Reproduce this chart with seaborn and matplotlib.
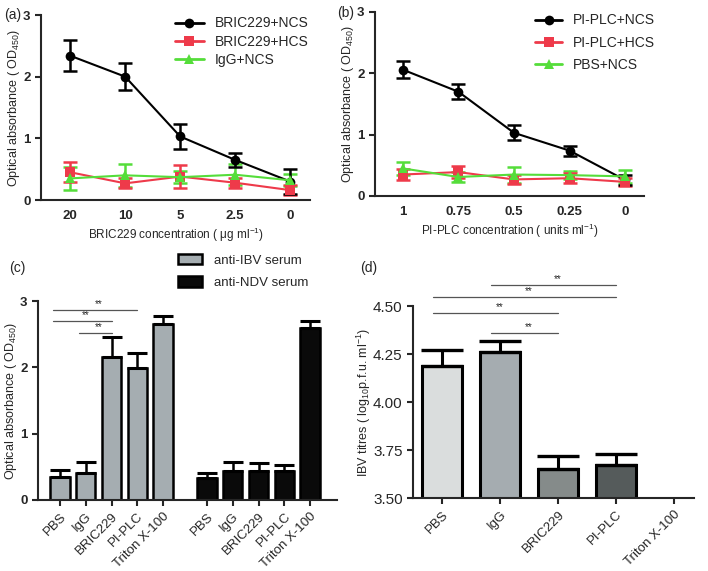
import numpy as np
import pandas as pd
import matplotlib
matplotlib.use('Agg')
import matplotlib.pyplot as plt
import seaborn as sns

# (a) BRIC229 titration
conc_a = ['20', '10', '5', '2.5', '0']
bric_ncs = [2.34, 2.00, 1.03, 0.65, 0.30]
bric_ncs_err = [0.25, 0.22, 0.20, 0.11, 0.21]
bric_hcs = [0.45, 0.27, 0.38, 0.28, 0.16]
bric_hcs_err = [0.16, 0.08, 0.18, 0.08, 0.08]
igg_ncs = [0.35, 0.40, 0.37, 0.41, 0.32]
igg_ncs_err = [0.18, 0.19, 0.10, 0.17, 0.10]

# (b) PI-PLC titration
conc_b = ['1', '0.75', '0.5', '0.25', '0']
plc_ncs = [2.06, 1.70, 1.03, 0.74, 0.26]
plc_ncs_err = [0.14, 0.12, 0.12, 0.08, 0.08]
plc_hcs = [0.35, 0.39, 0.27, 0.29, 0.23]
plc_hcs_err = [0.09, 0.10, 0.08, 0.08, 0.06]
pbs_ncs = [0.45, 0.31, 0.35, 0.34, 0.32]
pbs_ncs_err = [0.10, 0.08, 0.13, 0.07, 0.10]

# (c) treatments vs serum
treatments = ['PBS', 'IgG', 'BRIC229', 'PI-PLC', 'Triton X-100']
ibv_od = [0.34, 0.41, 2.16, 1.99, 2.66]
ibv_err = [0.11, 0.17, 0.30, 0.23, 0.11]
ndv_od = [0.33, 0.43, 0.44, 0.43, 2.59]
ndv_err = [0.08, 0.15, 0.12, 0.10, 0.11]
sig_c = [(0, 3, 2.87), (0, 2, 2.70), (1, 2, 2.52)]

# (d) IBV titres
titres = [4.19, 4.26, 3.65, 3.67, 0.0]
titres_err = [0.08, 0.06, 0.07, 0.057, 0.0]
sig_d = [(1, 3, 4.61), (0, 3, 4.547), (0, 2, 4.464), (1, 2, 4.36)]

sns.set_style('ticks')
plt.rcParams['font.family'] = ['Liberation Sans', 'DejaVu Sans']
plt.rcParams['mathtext.default'] = 'regular'
plt.rcParams['axes.linewidth'] = 1.5
plt.rcParams['xtick.major.width'] = 1.5
plt.rcParams['ytick.major.width'] = 1.5
plt.rcParams['xtick.major.size'] = 4
plt.rcParams['ytick.major.size'] = 4

fig = plt.figure(figsize=(7.08, 5.71), dpi=100)
W, H = 708, 571


def add_ax(l, r, t, b):
    return fig.add_axes([l / W, 1 - b / H, (r - l) / W, (b - t) / H])


red = '#ee3a4a'
green = '#55dd3a'


def titration(ax, series):
    rows = []
    for name, vals, errs, col, mk in series:
        for i, (v, e) in enumerate(zip(vals, errs)):
            rows.append({'pos': i, 'od': v, 'err': e, 'series': name})
    df = pd.DataFrame(rows)
    names = [s[0] for s in series]
    sns.lineplot(data=df, x='pos', y='od', hue='series', style='series',
                 hue_order=names, style_order=names,
                 palette={s[0]: s[3] for s in series},
                 markers={s[0]: s[4] for s in series}, dashes=False,
                 markersize=7, markeredgewidth=0, linewidth=1.5, ax=ax)
    for name, vals, errs, col, mk in series[::-1]:
        sub = df[df['series'] == name]
        ax.errorbar(sub['pos'], sub['od'], yerr=sub['err'], fmt='none',
                    ecolor=col, elinewidth=1.8, capsize=5, capthick=1.8, zorder=1)
    h, l = ax.get_legend_handles_labels()
    for hh in h:
        hh.set_linewidth(2)
    return h, l


axa = add_ax(41, 310, 15, 200)
h, l = titration(axa, [
    ('BRIC229+NCS', bric_ncs, bric_ncs_err, 'black', 'o'),
    ('BRIC229+HCS', bric_hcs, bric_hcs_err, red, 's'),
    ('IgG+NCS', igg_ncs, igg_ncs_err, green, '^')])
axa.legend(h, l, loc='upper left', bbox_to_anchor=(0.45, 1.06), frameon=False,
           fontsize=10, labelspacing=0.3, handlelength=2.1, handletextpad=0.8)
axa.set_xlim(-0.53, 4.36)
axa.set_xticks(range(5))
axa.set_xticklabels(conc_a, fontweight='bold', fontsize=9.5)
axa.tick_params(axis='x', length=0, pad=7)
axa.set_xlabel('BRIC229 concentration ( μg ml$^{-1}$)', fontsize=8.5, labelpad=3)

axb = add_ax(375, 644, 12, 196)
h, l = titration(axb, [
    ('PI-PLC+NCS', plc_ncs, plc_ncs_err, 'black', 'o'),
    ('PI-PLC+HCS', plc_hcs, plc_hcs_err, red, 's'),
    ('PBS+NCS', pbs_ncs, pbs_ncs_err, green, '^')])
axb.legend(h, l, loc='upper left', bbox_to_anchor=(0.55, 1.06), frameon=False,
           fontsize=10, labelspacing=0.6, handlelength=1.9, handletextpad=0.8)
axb.set_xlim(-0.5, 4.34)
axb.set_xticks(range(5))
axb.set_xticklabels(conc_b, fontweight='bold', fontsize=9.5)
axb.tick_params(axis='x', length=0, pad=7)
axb.set_xlabel('PI-PLC concentration ( units ml$^{-1}$)', fontsize=8.5, labelpad=3)

for ax in (axa, axb):
    ax.set_ylim(0, 3)
    ax.set_yticks([0, 1, 2, 3])
    ax.set_yticklabels(['0', '1', '2', '3'], fontweight='bold', fontsize=9.5)
    ax.set_ylabel('Optical absorbance ( OD$_{450}$)', fontsize=9, labelpad=1)
    sns.despine(ax=ax)

# (c)
axc = add_ax(38, 337, 301, 500)
pos_c = [0, 1, 2, 3, 4, 5.7, 6.7, 7.7, 8.7, 9.7]
dfc = pd.DataFrame({'pos': pos_c, 'od': ibv_od + ndv_od, 'err': ibv_err + ndv_err,
                    'serum': ['anti-IBV serum'] * 5 + ['anti-NDV serum'] * 5})
sns.barplot(data=dfc, x='pos', y='od', hue='serum', native_scale=True,
            palette={'anti-IBV serum': '#a3adb3', 'anti-NDV serum': '#0a0a0a'},
            dodge=False, width=0.75, edgecolor='black', linewidth=1.8, ax=axc)
axc.errorbar(dfc['pos'], dfc['od'], yerr=[np.zeros(len(dfc)), dfc['err']], fmt='none',
             ecolor='black', elinewidth=1.8, capsize=7, capthick=2.2, zorder=3)
for i, j, y in sig_c:
    axc.plot([pos_c[i] - 0.25, pos_c[j]], [y, y], color='#555555', lw=0.9, clip_on=False)
    axc.text((pos_c[i] + pos_c[j]) / 2, y + 0.01, '**', ha='center', va='bottom', fontsize=7)
h, l = axc.get_legend_handles_labels()
axc.legend(h, l, loc='lower left', bbox_to_anchor=(0.43, 1.0), frameon=False,
           fontsize=9.5, labelspacing=0.75, handlelength=1.8, handleheight=0.8,
           handletextpad=0.9)
axc.set_xlim(-0.85, 10.74)
axc.set_xticks(pos_c)
axc.set_xticklabels(treatments * 2, rotation=45, ha='right', rotation_mode='anchor', fontsize=9.5)
axc.set_xlabel('')
axc.set_ylim(0, 3)
axc.set_yticks([0, 1, 2, 3])
axc.set_yticklabels(['0', '1', '2', '3'], fontweight='bold', fontsize=9.5)
axc.set_ylabel('Optical absorbance ( OD$_{450}$)', fontsize=9, labelpad=1)
sns.despine(ax=axc)

# (d)
axd = add_ax(413, 694, 306, 498)
sns.barplot(x=treatments, y=titres, hue=treatments, order=treatments,
            palette=['#d9dddd', '#a3adb2', '#848c8a', '#545c5c', '#ffffff'],
            legend=False, width=0.68, edgecolor='black', linewidth=2.2, ax=axd)
axd.errorbar(np.arange(4), titres[:4], yerr=[np.zeros(4), titres_err[:4]], fmt='none',
             ecolor='black', elinewidth=2.2, capsize=15, capthick=2.4, zorder=3)
for i, j, y in sig_d:
    axd.plot([i - 0.15, j], [y, y], color='#555555', lw=0.9, clip_on=False)
    axd.text((i + j) / 2, y + 0.005, '**', ha='center', va='bottom', fontsize=7)
axd.set_xlim(-0.5, 4.34)
axd.set_ylim(3.5, 4.5)
axd.set_yticks([3.5, 3.75, 4.0, 4.25, 4.5])
axd.set_yticklabels(['3.50', '3.75', '4.00', '4.25', '4.50'], fontsize=11)
axd.set_xticks(range(5))
axd.set_xticklabels(treatments, rotation=45, ha='right', rotation_mode='anchor', fontsize=9.5)
axd.set_ylabel('IBV titres ( log$_{10}$p.f.u. ml$^{-1}$)', fontsize=9, labelpad=0)
sns.despine(ax=axd)

fig.text(4 / W, 1 - 15 / H, '(a)', fontsize=10, va='center')
fig.text(337 / W, 1 - 13 / H, '(b)', fontsize=10, va='center')
fig.text(9 / W, 1 - 268 / H, '(c)', fontsize=10, va='center')
fig.text(360 / W, 1 - 268 / H, '(d)', fontsize=10, va='center')

fig.savefig('out.png', dpi=100)
